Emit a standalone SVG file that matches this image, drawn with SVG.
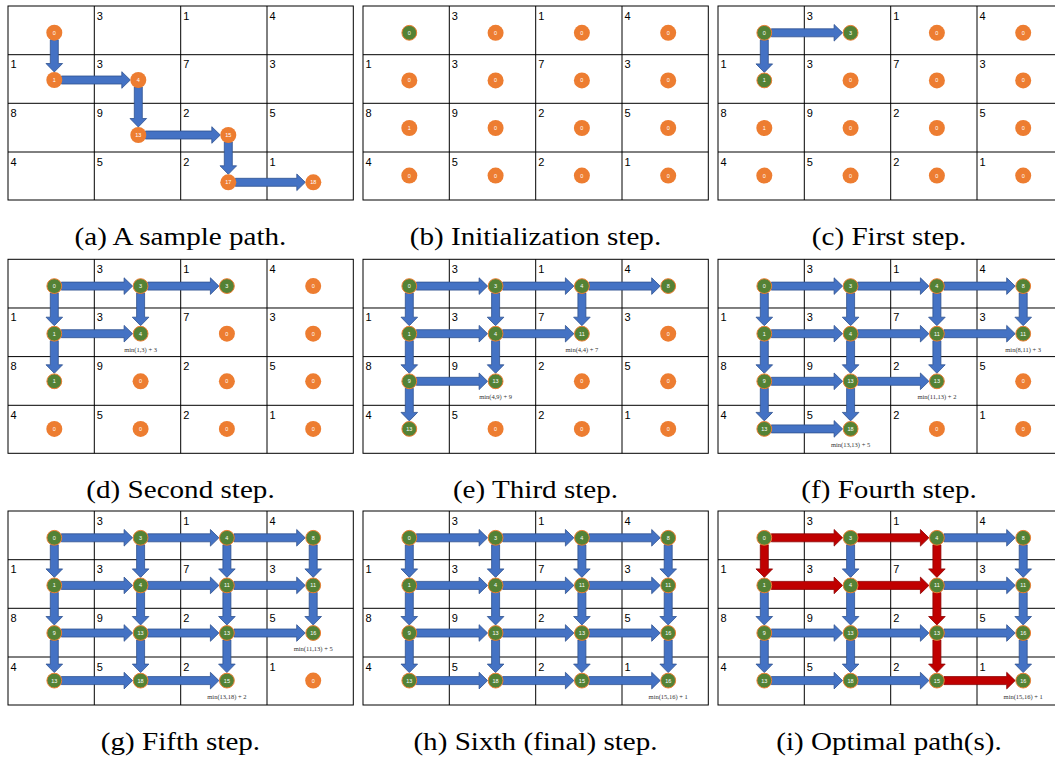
<svg xmlns="http://www.w3.org/2000/svg" xmlns:xlink="http://www.w3.org/1999/xlink" width="1055" height="760" viewBox="0 0 1055 760">
<style>
.o{fill:#ED7D31}
.g{fill:#548235;stroke:#ED7D31;stroke-width:1}
.nl{font-family:"Liberation Sans",Arial,sans-serif;font-size:5.5px;fill:#fff;text-anchor:middle}
.ann{font-family:"Liberation Serif","Times New Roman",serif;font-size:6.5px;fill:#333;text-anchor:middle}
.cl{font-family:"Liberation Sans",Arial,sans-serif;font-size:11px;fill:#000}
.cap{font-family:"Liberation Serif","Times New Roman",serif;font-size:26px;fill:#000;text-anchor:middle}
.b{fill:#4472C4;stroke:#2F528F;stroke-width:0.8}
.r{fill:#C00000;stroke:#8B0000;stroke-width:0.8}
</style>
<defs>
<g id="grid" fill="none" stroke="#000" stroke-width="1">
<rect x="0" y="0" width="345.3" height="194"/>
<path d="M86.3,0V194M172.7,0V194M259,0V194M0,48.7H345.3M0,97.3H345.3M0,146H345.3"/>
</g>
<g id="cells" class="cl">
<text x="88.8" y="13.5">3</text><text x="175.2" y="13.5">1</text><text x="261.5" y="13.5">4</text>
<text x="2.5" y="62.2">1</text><text x="88.8" y="62.2">3</text><text x="175.2" y="62.2">7</text><text x="261.5" y="62.2">3</text>
<text x="2.5" y="110.8">8</text><text x="88.8" y="110.8">9</text><text x="175.2" y="110.8">2</text><text x="261.5" y="110.8">5</text>
<text x="2.5" y="159.5">4</text><text x="88.8" y="159.5">5</text><text x="175.2" y="159.5">2</text><text x="261.5" y="159.5">1</text>
</g>
<path id="ha" d="M7,-4H69.8V-8.3L78.3,0L69.8,8.3V4H7Z"/>
<path id="va" d="M-4,7V31.1H-8.3L0,39.6L8.3,31.1H4V7Z"/>
</defs>
<rect width="1055" height="760" fill="#fff"/>

<!-- (a) -->
<g id="panel-a" transform="translate(8,6)">
<use href="#grid"/><use href="#cells"/>
<g id="a-connectors" class="b">
<path d="M42.3,33.7V57.5H38L46.3,66L54.6,57.5H50.3V33.7Z"/>
<path d="M53.3,70H113.8V65.7L122.3,74L113.8,82.3V78H53.3Z"/>
<path d="M126.3,81V112.5H122L130.3,121L138.6,112.5H134.3V81Z"/>
<path d="M137.3,125H203.8V120.7L212.3,129L203.8,137.3V133H137.3Z"/>
<path d="M216.3,136V159.8H212L220.3,168.3L228.6,159.8H224.3V136Z"/>
<path d="M227.3,172.3H288.8V168L297.3,176.3L288.8,184.6V180.3H227.3Z"/>
</g>
<g id="a-n0"><circle class="o" cx="46.3" cy="26.7" r="8"/><text class="nl" x="46.3" y="28.6">0</text></g>
<g id="a-n1"><circle class="o" cx="46.3" cy="74" r="8"/><text class="nl" x="46.3" y="75.9">1</text></g>
<g id="a-n4"><circle class="o" cx="130.3" cy="74" r="8"/><text class="nl" x="130.3" y="75.9">4</text></g>
<g id="a-n13"><circle class="o" cx="130.3" cy="129" r="8"/><text class="nl" x="130.3" y="130.9">13</text></g>
<g id="a-n15"><circle class="o" cx="220.3" cy="129" r="8"/><text class="nl" x="220.3" y="130.9">15</text></g>
<g id="a-n17"><circle class="o" cx="220.3" cy="176.3" r="8"/><text class="nl" x="220.3" y="178.2">17</text></g>
<g id="a-n18"><circle class="o" cx="305.3" cy="176.3" r="8"/><text class="nl" x="305.3" y="178.2">18</text></g>
</g>

<!-- (b) -->
<g id="panel-b" transform="translate(363,6)">
<use href="#grid"/><use href="#cells"/>
<g id="b-connectors"></g>
<g id="b-n00"><circle class="g" cx="46.3" cy="26.8" r="7.4"/><text class="nl" x="46.3" y="28.7">0</text></g>
<g id="b-n01"><circle class="o" cx="132.6" cy="26.8" r="8"/><text class="nl" x="132.6" y="28.7">0</text></g>
<g id="b-n02"><circle class="o" cx="218.9" cy="26.8" r="8"/><text class="nl" x="218.9" y="28.7">0</text></g>
<g id="b-n03"><circle class="o" cx="305.2" cy="26.8" r="8"/><text class="nl" x="305.2" y="28.7">0</text></g>
<g id="b-n10"><circle class="o" cx="46.3" cy="74.4" r="8"/><text class="nl" x="46.3" y="76.3">0</text></g>
<g id="b-n11"><circle class="o" cx="132.6" cy="74.4" r="8"/><text class="nl" x="132.6" y="76.3">0</text></g>
<g id="b-n12"><circle class="o" cx="218.9" cy="74.4" r="8"/><text class="nl" x="218.9" y="76.3">0</text></g>
<g id="b-n13"><circle class="o" cx="305.2" cy="74.4" r="8"/><text class="nl" x="305.2" y="76.3">0</text></g>
<g id="b-n20"><circle class="o" cx="46.3" cy="122" r="8"/><text class="nl" x="46.3" y="123.9">1</text></g>
<g id="b-n21"><circle class="o" cx="132.6" cy="122" r="8"/><text class="nl" x="132.6" y="123.9">0</text></g>
<g id="b-n22"><circle class="o" cx="218.9" cy="122" r="8"/><text class="nl" x="218.9" y="123.9">0</text></g>
<g id="b-n23"><circle class="o" cx="305.2" cy="122" r="8"/><text class="nl" x="305.2" y="123.9">0</text></g>
<g id="b-n30"><circle class="o" cx="46.3" cy="169.6" r="8"/><text class="nl" x="46.3" y="171.5">0</text></g>
<g id="b-n31"><circle class="o" cx="132.6" cy="169.6" r="8"/><text class="nl" x="132.6" y="171.5">0</text></g>
<g id="b-n32"><circle class="o" cx="218.9" cy="169.6" r="8"/><text class="nl" x="218.9" y="171.5">0</text></g>
<g id="b-n33"><circle class="o" cx="305.2" cy="169.6" r="8"/><text class="nl" x="305.2" y="171.5">0</text></g>
</g>

<!-- (c) -->
<g id="panel-c" transform="translate(718,6)">
<use href="#grid"/><use href="#cells"/>
<g id="c-connectors">
<use href="#ha" class="b" x="46.3" y="26.8"/>
<use href="#va" class="b" x="46.3" y="26.8"/>
</g>
<g id="c-n00"><circle class="g" cx="46.3" cy="26.8" r="7.4"/><text class="nl" x="46.3" y="28.7">0</text></g>
<g id="c-n01"><circle class="g" cx="132.6" cy="26.8" r="7.4"/><text class="nl" x="132.6" y="28.7">3</text></g>
<g id="c-n02"><circle class="o" cx="218.9" cy="26.8" r="8"/><text class="nl" x="218.9" y="28.7">0</text></g>
<g id="c-n03"><circle class="o" cx="305.2" cy="26.8" r="8"/><text class="nl" x="305.2" y="28.7">0</text></g>
<g id="c-n10"><circle class="g" cx="46.3" cy="74.4" r="7.4"/><text class="nl" x="46.3" y="76.3">1</text></g>
<g id="c-n11"><circle class="o" cx="132.6" cy="74.4" r="8"/><text class="nl" x="132.6" y="76.3">0</text></g>
<g id="c-n12"><circle class="o" cx="218.9" cy="74.4" r="8"/><text class="nl" x="218.9" y="76.3">0</text></g>
<g id="c-n13"><circle class="o" cx="305.2" cy="74.4" r="8"/><text class="nl" x="305.2" y="76.3">0</text></g>
<g id="c-n20"><circle class="o" cx="46.3" cy="122" r="8"/><text class="nl" x="46.3" y="123.9">1</text></g>
<g id="c-n21"><circle class="o" cx="132.6" cy="122" r="8"/><text class="nl" x="132.6" y="123.9">0</text></g>
<g id="c-n22"><circle class="o" cx="218.9" cy="122" r="8"/><text class="nl" x="218.9" y="123.9">0</text></g>
<g id="c-n23"><circle class="o" cx="305.2" cy="122" r="8"/><text class="nl" x="305.2" y="123.9">0</text></g>
<g id="c-n30"><circle class="o" cx="46.3" cy="169.6" r="8"/><text class="nl" x="46.3" y="171.5">0</text></g>
<g id="c-n31"><circle class="o" cx="132.6" cy="169.6" r="8"/><text class="nl" x="132.6" y="171.5">0</text></g>
<g id="c-n32"><circle class="o" cx="218.9" cy="169.6" r="8"/><text class="nl" x="218.9" y="171.5">0</text></g>
<g id="c-n33"><circle class="o" cx="305.2" cy="169.6" r="8"/><text class="nl" x="305.2" y="171.5">0</text></g>
</g>

<!-- (d) -->
<g id="panel-d" transform="translate(8,259.3)">
<use href="#grid"/><use href="#cells"/>
<g id="d-connectors">
<use href="#ha" class="b" x="46.3" y="26.8"/>
<use href="#ha" class="b" x="132.6" y="26.8"/>
<use href="#ha" class="b" x="46.3" y="74.4"/>
<use href="#va" class="b" x="46.3" y="26.8"/>
<use href="#va" class="b" x="132.6" y="26.8"/>
<use href="#va" class="b" x="46.3" y="74.4"/>
</g>
<g id="d-n00"><circle class="g" cx="46.3" cy="26.8" r="7.4"/><text class="nl" x="46.3" y="28.7">0</text></g>
<g id="d-n01"><circle class="g" cx="132.6" cy="26.8" r="7.4"/><text class="nl" x="132.6" y="28.7">3</text></g>
<g id="d-n02"><circle class="g" cx="218.9" cy="26.8" r="7.4"/><text class="nl" x="218.9" y="28.7">3</text></g>
<g id="d-n03"><circle class="o" cx="305.2" cy="26.8" r="8"/><text class="nl" x="305.2" y="28.7">0</text></g>
<g id="d-n10"><circle class="g" cx="46.3" cy="74.4" r="7.4"/><text class="nl" x="46.3" y="76.3">1</text></g>
<g id="d-n11"><circle class="g" cx="132.6" cy="74.4" r="7.4"/><text class="nl" x="132.6" y="76.3">4</text><text class="ann" x="132.6" y="92.4">min(1,3) + 3</text></g>
<g id="d-n12"><circle class="o" cx="218.9" cy="74.4" r="8"/><text class="nl" x="218.9" y="76.3">0</text></g>
<g id="d-n13"><circle class="o" cx="305.2" cy="74.4" r="8"/><text class="nl" x="305.2" y="76.3">0</text></g>
<g id="d-n20"><circle class="g" cx="46.3" cy="122" r="7.4"/><text class="nl" x="46.3" y="123.9">1</text></g>
<g id="d-n21"><circle class="o" cx="132.6" cy="122" r="8"/><text class="nl" x="132.6" y="123.9">0</text></g>
<g id="d-n22"><circle class="o" cx="218.9" cy="122" r="8"/><text class="nl" x="218.9" y="123.9">0</text></g>
<g id="d-n23"><circle class="o" cx="305.2" cy="122" r="8"/><text class="nl" x="305.2" y="123.9">0</text></g>
<g id="d-n30"><circle class="o" cx="46.3" cy="169.6" r="8"/><text class="nl" x="46.3" y="171.5">0</text></g>
<g id="d-n31"><circle class="o" cx="132.6" cy="169.6" r="8"/><text class="nl" x="132.6" y="171.5">0</text></g>
<g id="d-n32"><circle class="o" cx="218.9" cy="169.6" r="8"/><text class="nl" x="218.9" y="171.5">0</text></g>
<g id="d-n33"><circle class="o" cx="305.2" cy="169.6" r="8"/><text class="nl" x="305.2" y="171.5">0</text></g>
</g>

<!-- (e) -->
<g id="panel-e" transform="translate(363,259.3)">
<use href="#grid"/><use href="#cells"/>
<g id="e-connectors">
<use href="#ha" class="b" x="46.3" y="26.8"/>
<use href="#ha" class="b" x="132.6" y="26.8"/>
<use href="#ha" class="b" x="218.9" y="26.8"/>
<use href="#ha" class="b" x="46.3" y="74.4"/>
<use href="#ha" class="b" x="132.6" y="74.4"/>
<use href="#ha" class="b" x="46.3" y="122"/>
<use href="#va" class="b" x="46.3" y="26.8"/>
<use href="#va" class="b" x="46.3" y="74.4"/>
<use href="#va" class="b" x="46.3" y="122"/>
<use href="#va" class="b" x="132.6" y="26.8"/>
<use href="#va" class="b" x="132.6" y="74.4"/>
<use href="#va" class="b" x="218.9" y="26.8"/>
</g>
<g id="e-n00"><circle class="g" cx="46.3" cy="26.8" r="7.4"/><text class="nl" x="46.3" y="28.7">0</text></g>
<g id="e-n01"><circle class="g" cx="132.6" cy="26.8" r="7.4"/><text class="nl" x="132.6" y="28.7">3</text></g>
<g id="e-n02"><circle class="g" cx="218.9" cy="26.8" r="7.4"/><text class="nl" x="218.9" y="28.7">4</text></g>
<g id="e-n03"><circle class="g" cx="305.2" cy="26.8" r="7.4"/><text class="nl" x="305.2" y="28.7">8</text></g>
<g id="e-n10"><circle class="g" cx="46.3" cy="74.4" r="7.4"/><text class="nl" x="46.3" y="76.3">1</text></g>
<g id="e-n11"><circle class="g" cx="132.6" cy="74.4" r="7.4"/><text class="nl" x="132.6" y="76.3">4</text></g>
<g id="e-n12"><circle class="g" cx="218.9" cy="74.4" r="7.4"/><text class="nl" x="218.9" y="76.3">11</text><text class="ann" x="218.9" y="92.4">min(4,4) + 7</text></g>
<g id="e-n13"><circle class="o" cx="305.2" cy="74.4" r="8"/><text class="nl" x="305.2" y="76.3">0</text></g>
<g id="e-n20"><circle class="g" cx="46.3" cy="122" r="7.4"/><text class="nl" x="46.3" y="123.9">9</text></g>
<g id="e-n21"><circle class="g" cx="132.6" cy="122" r="7.4"/><text class="nl" x="132.6" y="123.9">13</text><text class="ann" x="132.6" y="140">min(4,9) + 9</text></g>
<g id="e-n22"><circle class="o" cx="218.9" cy="122" r="8"/><text class="nl" x="218.9" y="123.9">0</text></g>
<g id="e-n23"><circle class="o" cx="305.2" cy="122" r="8"/><text class="nl" x="305.2" y="123.9">0</text></g>
<g id="e-n30"><circle class="g" cx="46.3" cy="169.6" r="7.4"/><text class="nl" x="46.3" y="171.5">13</text></g>
<g id="e-n31"><circle class="o" cx="132.6" cy="169.6" r="8"/><text class="nl" x="132.6" y="171.5">0</text></g>
<g id="e-n32"><circle class="o" cx="218.9" cy="169.6" r="8"/><text class="nl" x="218.9" y="171.5">0</text></g>
<g id="e-n33"><circle class="o" cx="305.2" cy="169.6" r="8"/><text class="nl" x="305.2" y="171.5">0</text></g>
</g>

<!-- (f) -->
<g id="panel-f" transform="translate(718,259.3)">
<use href="#grid"/><use href="#cells"/>
<g id="f-connectors">
<use href="#ha" class="b" x="46.3" y="26.8"/>
<use href="#ha" class="b" x="132.6" y="26.8"/>
<use href="#ha" class="b" x="218.9" y="26.8"/>
<use href="#ha" class="b" x="46.3" y="74.4"/>
<use href="#ha" class="b" x="132.6" y="74.4"/>
<use href="#ha" class="b" x="218.9" y="74.4"/>
<use href="#ha" class="b" x="46.3" y="122"/>
<use href="#ha" class="b" x="132.6" y="122"/>
<use href="#ha" class="b" x="46.3" y="169.6"/>
<use href="#va" class="b" x="46.3" y="26.8"/>
<use href="#va" class="b" x="46.3" y="74.4"/>
<use href="#va" class="b" x="46.3" y="122"/>
<use href="#va" class="b" x="132.6" y="26.8"/>
<use href="#va" class="b" x="132.6" y="74.4"/>
<use href="#va" class="b" x="132.6" y="122"/>
<use href="#va" class="b" x="218.9" y="26.8"/>
<use href="#va" class="b" x="218.9" y="74.4"/>
<use href="#va" class="b" x="305.2" y="26.8"/>
</g>
<g id="f-n00"><circle class="g" cx="46.3" cy="26.8" r="7.4"/><text class="nl" x="46.3" y="28.7">0</text></g>
<g id="f-n01"><circle class="g" cx="132.6" cy="26.8" r="7.4"/><text class="nl" x="132.6" y="28.7">3</text></g>
<g id="f-n02"><circle class="g" cx="218.9" cy="26.8" r="7.4"/><text class="nl" x="218.9" y="28.7">4</text></g>
<g id="f-n03"><circle class="g" cx="305.2" cy="26.8" r="7.4"/><text class="nl" x="305.2" y="28.7">8</text></g>
<g id="f-n10"><circle class="g" cx="46.3" cy="74.4" r="7.4"/><text class="nl" x="46.3" y="76.3">1</text></g>
<g id="f-n11"><circle class="g" cx="132.6" cy="74.4" r="7.4"/><text class="nl" x="132.6" y="76.3">4</text></g>
<g id="f-n12"><circle class="g" cx="218.9" cy="74.4" r="7.4"/><text class="nl" x="218.9" y="76.3">11</text></g>
<g id="f-n13"><circle class="g" cx="305.2" cy="74.4" r="7.4"/><text class="nl" x="305.2" y="76.3">11</text><text class="ann" x="305.2" y="92.4">min(8,11) + 3</text></g>
<g id="f-n20"><circle class="g" cx="46.3" cy="122" r="7.4"/><text class="nl" x="46.3" y="123.9">9</text></g>
<g id="f-n21"><circle class="g" cx="132.6" cy="122" r="7.4"/><text class="nl" x="132.6" y="123.9">13</text></g>
<g id="f-n22"><circle class="g" cx="218.9" cy="122" r="7.4"/><text class="nl" x="218.9" y="123.9">13</text><text class="ann" x="218.9" y="140">min(11,13) + 2</text></g>
<g id="f-n23"><circle class="o" cx="305.2" cy="122" r="8"/><text class="nl" x="305.2" y="123.9">0</text></g>
<g id="f-n30"><circle class="g" cx="46.3" cy="169.6" r="7.4"/><text class="nl" x="46.3" y="171.5">13</text></g>
<g id="f-n31"><circle class="g" cx="132.6" cy="169.6" r="7.4"/><text class="nl" x="132.6" y="171.5">18</text><text class="ann" x="132.6" y="187.6">min(13,13) + 5</text></g>
<g id="f-n32"><circle class="o" cx="218.9" cy="169.6" r="8"/><text class="nl" x="218.9" y="171.5">0</text></g>
<g id="f-n33"><circle class="o" cx="305.2" cy="169.6" r="8"/><text class="nl" x="305.2" y="171.5">0</text></g>
</g>

<!-- (g) -->
<g id="panel-g" transform="translate(8,511)">
<use href="#grid"/><use href="#cells"/>
<g id="g-connectors">
<use href="#ha" class="b" x="46.3" y="26.8"/>
<use href="#ha" class="b" x="132.6" y="26.8"/>
<use href="#ha" class="b" x="218.9" y="26.8"/>
<use href="#ha" class="b" x="46.3" y="74.4"/>
<use href="#ha" class="b" x="132.6" y="74.4"/>
<use href="#ha" class="b" x="218.9" y="74.4"/>
<use href="#ha" class="b" x="46.3" y="122"/>
<use href="#ha" class="b" x="132.6" y="122"/>
<use href="#ha" class="b" x="218.9" y="122"/>
<use href="#ha" class="b" x="46.3" y="169.6"/>
<use href="#ha" class="b" x="132.6" y="169.6"/>
<use href="#va" class="b" x="46.3" y="26.8"/>
<use href="#va" class="b" x="46.3" y="74.4"/>
<use href="#va" class="b" x="46.3" y="122"/>
<use href="#va" class="b" x="132.6" y="26.8"/>
<use href="#va" class="b" x="132.6" y="74.4"/>
<use href="#va" class="b" x="132.6" y="122"/>
<use href="#va" class="b" x="218.9" y="26.8"/>
<use href="#va" class="b" x="218.9" y="74.4"/>
<use href="#va" class="b" x="218.9" y="122"/>
<use href="#va" class="b" x="305.2" y="26.8"/>
<use href="#va" class="b" x="305.2" y="74.4"/>
</g>
<g id="g-n00"><circle class="g" cx="46.3" cy="26.8" r="7.4"/><text class="nl" x="46.3" y="28.7">0</text></g>
<g id="g-n01"><circle class="g" cx="132.6" cy="26.8" r="7.4"/><text class="nl" x="132.6" y="28.7">3</text></g>
<g id="g-n02"><circle class="g" cx="218.9" cy="26.8" r="7.4"/><text class="nl" x="218.9" y="28.7">4</text></g>
<g id="g-n03"><circle class="g" cx="305.2" cy="26.8" r="7.4"/><text class="nl" x="305.2" y="28.7">8</text></g>
<g id="g-n10"><circle class="g" cx="46.3" cy="74.4" r="7.4"/><text class="nl" x="46.3" y="76.3">1</text></g>
<g id="g-n11"><circle class="g" cx="132.6" cy="74.4" r="7.4"/><text class="nl" x="132.6" y="76.3">4</text></g>
<g id="g-n12"><circle class="g" cx="218.9" cy="74.4" r="7.4"/><text class="nl" x="218.9" y="76.3">11</text></g>
<g id="g-n13"><circle class="g" cx="305.2" cy="74.4" r="7.4"/><text class="nl" x="305.2" y="76.3">11</text></g>
<g id="g-n20"><circle class="g" cx="46.3" cy="122" r="7.4"/><text class="nl" x="46.3" y="123.9">9</text></g>
<g id="g-n21"><circle class="g" cx="132.6" cy="122" r="7.4"/><text class="nl" x="132.6" y="123.9">13</text></g>
<g id="g-n22"><circle class="g" cx="218.9" cy="122" r="7.4"/><text class="nl" x="218.9" y="123.9">13</text></g>
<g id="g-n23"><circle class="g" cx="305.2" cy="122" r="7.4"/><text class="nl" x="305.2" y="123.9">16</text><text class="ann" x="305.2" y="140">min(11,13) + 5</text></g>
<g id="g-n30"><circle class="g" cx="46.3" cy="169.6" r="7.4"/><text class="nl" x="46.3" y="171.5">13</text></g>
<g id="g-n31"><circle class="g" cx="132.6" cy="169.6" r="7.4"/><text class="nl" x="132.6" y="171.5">18</text></g>
<g id="g-n32"><circle class="g" cx="218.9" cy="169.6" r="7.4"/><text class="nl" x="218.9" y="171.5">15</text><text class="ann" x="218.9" y="187.6">min(13,18) + 2</text></g>
<g id="g-n33"><circle class="o" cx="305.2" cy="169.6" r="8"/><text class="nl" x="305.2" y="171.5">0</text></g>
</g>

<!-- (h) -->
<g id="panel-h" transform="translate(363,511)">
<use href="#grid"/><use href="#cells"/>
<g id="h-connectors">
<use href="#ha" class="b" x="46.3" y="26.8"/>
<use href="#ha" class="b" x="132.6" y="26.8"/>
<use href="#ha" class="b" x="218.9" y="26.8"/>
<use href="#ha" class="b" x="46.3" y="74.4"/>
<use href="#ha" class="b" x="132.6" y="74.4"/>
<use href="#ha" class="b" x="218.9" y="74.4"/>
<use href="#ha" class="b" x="46.3" y="122"/>
<use href="#ha" class="b" x="132.6" y="122"/>
<use href="#ha" class="b" x="218.9" y="122"/>
<use href="#ha" class="b" x="46.3" y="169.6"/>
<use href="#ha" class="b" x="132.6" y="169.6"/>
<use href="#ha" class="b" x="218.9" y="169.6"/>
<use href="#va" class="b" x="46.3" y="26.8"/>
<use href="#va" class="b" x="46.3" y="74.4"/>
<use href="#va" class="b" x="46.3" y="122"/>
<use href="#va" class="b" x="132.6" y="26.8"/>
<use href="#va" class="b" x="132.6" y="74.4"/>
<use href="#va" class="b" x="132.6" y="122"/>
<use href="#va" class="b" x="218.9" y="26.8"/>
<use href="#va" class="b" x="218.9" y="74.4"/>
<use href="#va" class="b" x="218.9" y="122"/>
<use href="#va" class="b" x="305.2" y="26.8"/>
<use href="#va" class="b" x="305.2" y="74.4"/>
<use href="#va" class="b" x="305.2" y="122"/>
</g>
<g id="h-n00"><circle class="g" cx="46.3" cy="26.8" r="7.4"/><text class="nl" x="46.3" y="28.7">0</text></g>
<g id="h-n01"><circle class="g" cx="132.6" cy="26.8" r="7.4"/><text class="nl" x="132.6" y="28.7">3</text></g>
<g id="h-n02"><circle class="g" cx="218.9" cy="26.8" r="7.4"/><text class="nl" x="218.9" y="28.7">4</text></g>
<g id="h-n03"><circle class="g" cx="305.2" cy="26.8" r="7.4"/><text class="nl" x="305.2" y="28.7">8</text></g>
<g id="h-n10"><circle class="g" cx="46.3" cy="74.4" r="7.4"/><text class="nl" x="46.3" y="76.3">1</text></g>
<g id="h-n11"><circle class="g" cx="132.6" cy="74.4" r="7.4"/><text class="nl" x="132.6" y="76.3">4</text></g>
<g id="h-n12"><circle class="g" cx="218.9" cy="74.4" r="7.4"/><text class="nl" x="218.9" y="76.3">11</text></g>
<g id="h-n13"><circle class="g" cx="305.2" cy="74.4" r="7.4"/><text class="nl" x="305.2" y="76.3">11</text></g>
<g id="h-n20"><circle class="g" cx="46.3" cy="122" r="7.4"/><text class="nl" x="46.3" y="123.9">9</text></g>
<g id="h-n21"><circle class="g" cx="132.6" cy="122" r="7.4"/><text class="nl" x="132.6" y="123.9">13</text></g>
<g id="h-n22"><circle class="g" cx="218.9" cy="122" r="7.4"/><text class="nl" x="218.9" y="123.9">13</text></g>
<g id="h-n23"><circle class="g" cx="305.2" cy="122" r="7.4"/><text class="nl" x="305.2" y="123.9">16</text></g>
<g id="h-n30"><circle class="g" cx="46.3" cy="169.6" r="7.4"/><text class="nl" x="46.3" y="171.5">13</text></g>
<g id="h-n31"><circle class="g" cx="132.6" cy="169.6" r="7.4"/><text class="nl" x="132.6" y="171.5">18</text></g>
<g id="h-n32"><circle class="g" cx="218.9" cy="169.6" r="7.4"/><text class="nl" x="218.9" y="171.5">15</text></g>
<g id="h-n33"><circle class="g" cx="305.2" cy="169.6" r="7.4"/><text class="nl" x="305.2" y="171.5">16</text><text class="ann" x="305.2" y="187.6">min(15,16) + 1</text></g>
</g>

<!-- (i) -->
<g id="panel-i" transform="translate(718,511)">
<use href="#grid"/><use href="#cells"/>
<g id="i-connectors">
<use href="#ha" class="r" x="46.3" y="26.8"/>
<use href="#ha" class="r" x="132.6" y="26.8"/>
<use href="#ha" class="b" x="218.9" y="26.8"/>
<use href="#ha" class="r" x="46.3" y="74.4"/>
<use href="#ha" class="r" x="132.6" y="74.4"/>
<use href="#ha" class="b" x="218.9" y="74.4"/>
<use href="#ha" class="b" x="46.3" y="122"/>
<use href="#ha" class="b" x="132.6" y="122"/>
<use href="#ha" class="b" x="218.9" y="122"/>
<use href="#ha" class="b" x="46.3" y="169.6"/>
<use href="#ha" class="b" x="132.6" y="169.6"/>
<use href="#ha" class="r" x="218.9" y="169.6"/>
<use href="#va" class="r" x="46.3" y="26.8"/>
<use href="#va" class="b" x="46.3" y="74.4"/>
<use href="#va" class="b" x="46.3" y="122"/>
<use href="#va" class="b" x="132.6" y="26.8"/>
<use href="#va" class="b" x="132.6" y="74.4"/>
<use href="#va" class="b" x="132.6" y="122"/>
<use href="#va" class="r" x="218.9" y="26.8"/>
<use href="#va" class="r" x="218.9" y="74.4"/>
<use href="#va" class="r" x="218.9" y="122"/>
<use href="#va" class="b" x="305.2" y="26.8"/>
<use href="#va" class="b" x="305.2" y="74.4"/>
<use href="#va" class="b" x="305.2" y="122"/>
</g>
<g id="i-n00"><circle class="g" cx="46.3" cy="26.8" r="7.4"/><text class="nl" x="46.3" y="28.7">0</text></g>
<g id="i-n01"><circle class="g" cx="132.6" cy="26.8" r="7.4"/><text class="nl" x="132.6" y="28.7">3</text></g>
<g id="i-n02"><circle class="g" cx="218.9" cy="26.8" r="7.4"/><text class="nl" x="218.9" y="28.7">4</text></g>
<g id="i-n03"><circle class="g" cx="305.2" cy="26.8" r="7.4"/><text class="nl" x="305.2" y="28.7">8</text></g>
<g id="i-n10"><circle class="g" cx="46.3" cy="74.4" r="7.4"/><text class="nl" x="46.3" y="76.3">1</text></g>
<g id="i-n11"><circle class="g" cx="132.6" cy="74.4" r="7.4"/><text class="nl" x="132.6" y="76.3">4</text></g>
<g id="i-n12"><circle class="g" cx="218.9" cy="74.4" r="7.4"/><text class="nl" x="218.9" y="76.3">11</text></g>
<g id="i-n13"><circle class="g" cx="305.2" cy="74.4" r="7.4"/><text class="nl" x="305.2" y="76.3">11</text></g>
<g id="i-n20"><circle class="g" cx="46.3" cy="122" r="7.4"/><text class="nl" x="46.3" y="123.9">9</text></g>
<g id="i-n21"><circle class="g" cx="132.6" cy="122" r="7.4"/><text class="nl" x="132.6" y="123.9">13</text></g>
<g id="i-n22"><circle class="g" cx="218.9" cy="122" r="7.4"/><text class="nl" x="218.9" y="123.9">13</text></g>
<g id="i-n23"><circle class="g" cx="305.2" cy="122" r="7.4"/><text class="nl" x="305.2" y="123.9">16</text></g>
<g id="i-n30"><circle class="g" cx="46.3" cy="169.6" r="7.4"/><text class="nl" x="46.3" y="171.5">13</text></g>
<g id="i-n31"><circle class="g" cx="132.6" cy="169.6" r="7.4"/><text class="nl" x="132.6" y="171.5">18</text></g>
<g id="i-n32"><circle class="g" cx="218.9" cy="169.6" r="7.4"/><text class="nl" x="218.9" y="171.5">15</text></g>
<g id="i-n33"><circle class="g" cx="305.2" cy="169.6" r="7.4"/><text class="nl" x="305.2" y="171.5">16</text><text class="ann" x="305.2" y="187.6">min(15,16) + 1</text></g>
</g>

<g id="captions">
<text class="cap" transform="translate(180.5,245) scale(1.12,1)">(a) A sample path.</text>
<text class="cap" transform="translate(535.5,245) scale(1.12,1)">(b) Initialization step.</text>
<text class="cap" transform="translate(889,245) scale(1.12,1)">(c) First step.</text>
<text class="cap" transform="translate(180.5,498) scale(1.12,1)">(d) Second step.</text>
<text class="cap" transform="translate(535.5,498) scale(1.12,1)">(e) Third step.</text>
<text class="cap" transform="translate(889,498) scale(1.12,1)">(f) Fourth step.</text>
<text class="cap" transform="translate(180.5,750) scale(1.12,1)">(g) Fifth step.</text>
<text class="cap" transform="translate(535.5,750) scale(1.12,1)">(h) Sixth (final) step.</text>
<text class="cap" transform="translate(889,750) scale(1.12,1)">(i) Optimal path(s).</text>
</g>
</svg>
